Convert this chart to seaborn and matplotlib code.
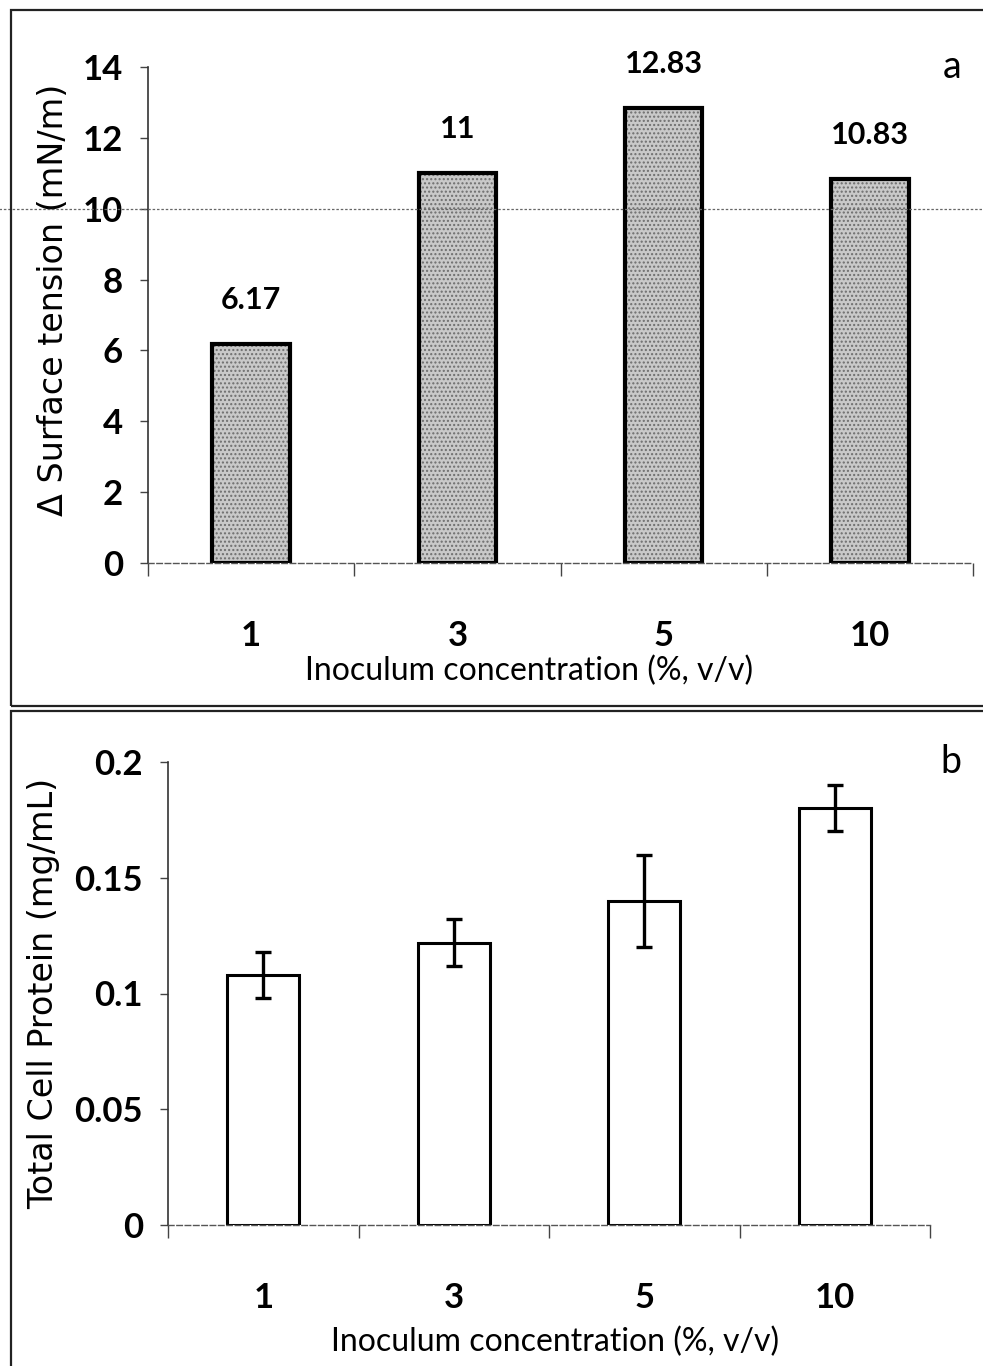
import matplotlib
matplotlib.use("Agg")
import matplotlib.pyplot as plt
from matplotlib.patches import Rectangle
import seaborn as sns
import pandas as pd

# Inoculum concentrations (%, v/v)
concentrations = ["1", "3", "5", "10"]
# Reduction in surface tension (mN/m)
delta_tension = [6.17, 11.0, 12.83, 10.83]
tension_labels = ["6.17", "11", "12.83", "10.83"]
# Total cell protein (mg/mL) and its standard deviation
protein = [0.108, 0.122, 0.140, 0.180]
protein_err = [0.010, 0.010, 0.020, 0.010]

yticks_a = [0, 2, 4, 6, 8, 10, 12, 14]
yticks_b = [0, 0.05, 0.1, 0.15, 0.2]
yticklabels_b = ["0", "0.05", "0.1", "0.15", "0.2"]

sns.set_theme(style="white")
NARROW = ["Lato", "DejaVu Sans"]
WIDE = ["DejaVu Sans"]
plt.rcParams["font.family"] = NARROW
plt.rcParams["text.color"] = "black"
plt.rcParams["axes.labelcolor"] = "black"
plt.rcParams["xtick.color"] = "black"
plt.rcParams["ytick.color"] = "black"

df_a = pd.DataFrame({"conc": concentrations, "val": delta_tension})
df_b = pd.DataFrame({"conc": concentrations, "val": protein})

fig = plt.figure(figsize=(9.83, 13.66), dpi=100)

# panel frames
fig.add_artist(Rectangle((11 / 983, 1 - 706 / 1366), 1.0, 696 / 1366,
                         transform=fig.transFigure, fill=False,
                         edgecolor="#222222", linewidth=1.6, clip_on=False))
fig.add_artist(Rectangle((11 / 983, -0.01), 1.0, 1 - 711 / 1366 + 0.01,
                         transform=fig.transFigure, fill=False,
                         edgecolor="#222222", linewidth=1.6, clip_on=False))

ax_a = fig.add_axes([148 / 983, 1 - 563 / 1366, 825 / 983, 496 / 1366])
ax_b = fig.add_axes([168 / 983, 1 - 1225 / 1366, 762 / 983, 463 / 1366])


def style_axis(ax):
    for side in ("top", "right"):
        ax.spines[side].set_visible(False)
    ax.spines["left"].set_color("#333333")
    ax.spines["left"].set_linewidth(1.2)
    ax.spines["bottom"].set_color("#555555")
    ax.spines["bottom"].set_linewidth(1.0)
    ax.spines["bottom"].set_linestyle((0, (4, 2)))
    ax.set_xlim(-0.5, 3.5)
    # category labels sit at the centres, tick marks at the category borders
    ax.set_xticks([0, 1, 2, 3])
    ax.set_xticks([-0.5, 0.5, 1.5, 2.5, 3.5], minor=True)
    ax.tick_params(axis="x", which="major", length=0, pad=41, labelsize=25)
    ax.tick_params(axis="x", which="minor", bottom=True, length=9,
                   width=1.0, color="#444444", direction="out")
    ax.tick_params(axis="y", left=True, length=6, width=1.0,
                   color="#444444", direction="out", pad=12, labelsize=25)
    for lab in ax.get_xticklabels() + ax.get_yticklabels():
        lab.set_fontweight("bold")
    ax.set_facecolor("none")


# ---- panel a: surface tension reduction (stippled bars) ----
sns.barplot(data=df_a, x="conc", y="val", order=concentrations, ax=ax_a,
            width=0.375, color="#c9c9c9", saturation=1, linewidth=0,
            errorbar=None)
for p in ax_a.patches:
    p.set_hatch("....")
    p.set_edgecolor("#6e6e6e")
    p.set_linewidth(0)
sns.barplot(data=df_a, x="conc", y="val", order=concentrations, ax=ax_a,
            width=0.375, fill=False, edgecolor="black", linewidth=3,
            errorbar=None)
ax_a.bar_label(ax_a.containers[-1], labels=tension_labels, padding=22,
               fontsize=22, fontweight="bold", family=NARROW)
ax_a.axhline(10, xmin=-0.19, xmax=1.02, color="#666666", linewidth=0.9,
             linestyle=(0, (2, 1.5)), clip_on=False, zorder=5)
ax_a.set_ylim(0, 14)
ax_a.set_yticks(yticks_a)
style_axis(ax_a)
ax_a.set_xlabel("Inoculum concentration (%, v/v)", fontsize=23, labelpad=3)
ax_a.xaxis.label.set_x(0.462)
ax_a.set_ylabel("Δ Surface tension (mN/m)", fontsize=24, family=WIDE,
                labelpad=9)
ax_a.yaxis.label.set_y(0.53)
ax_a.text(0.975, 1.0, "a", transform=ax_a.transAxes, fontsize=27,
          ha="center", va="center")

# ---- panel b: total cell protein (open bars with error bars) ----
sns.barplot(data=df_b, x="conc", y="val", order=concentrations, ax=ax_b,
            width=0.38, fill=False, edgecolor="black", linewidth=2.2,
            errorbar=None)
ax_b.errorbar(range(len(concentrations)), protein, yerr=protein_err,
              fmt="none", ecolor="black", elinewidth=2.4, capsize=6,
              capthick=2.4, zorder=6)
ax_b.set_ylim(0, 0.2)
ax_b.set_yticks(yticks_b)
ax_b.set_yticklabels(yticklabels_b)
style_axis(ax_b)
ax_b.set_xlabel("Inoculum concentration (%, v/v)", fontsize=23, labelpad=9)
ax_b.xaxis.label.set_x(0.508)
ax_b.set_ylabel("Total Cell Protein (mg/mL)", fontsize=24, family=WIDE,
                labelpad=10)
ax_b.text(1.027, 1.0, "b", transform=ax_b.transAxes, fontsize=27,
          ha="center", va="center")

fig.savefig("out.png", dpi=100)
